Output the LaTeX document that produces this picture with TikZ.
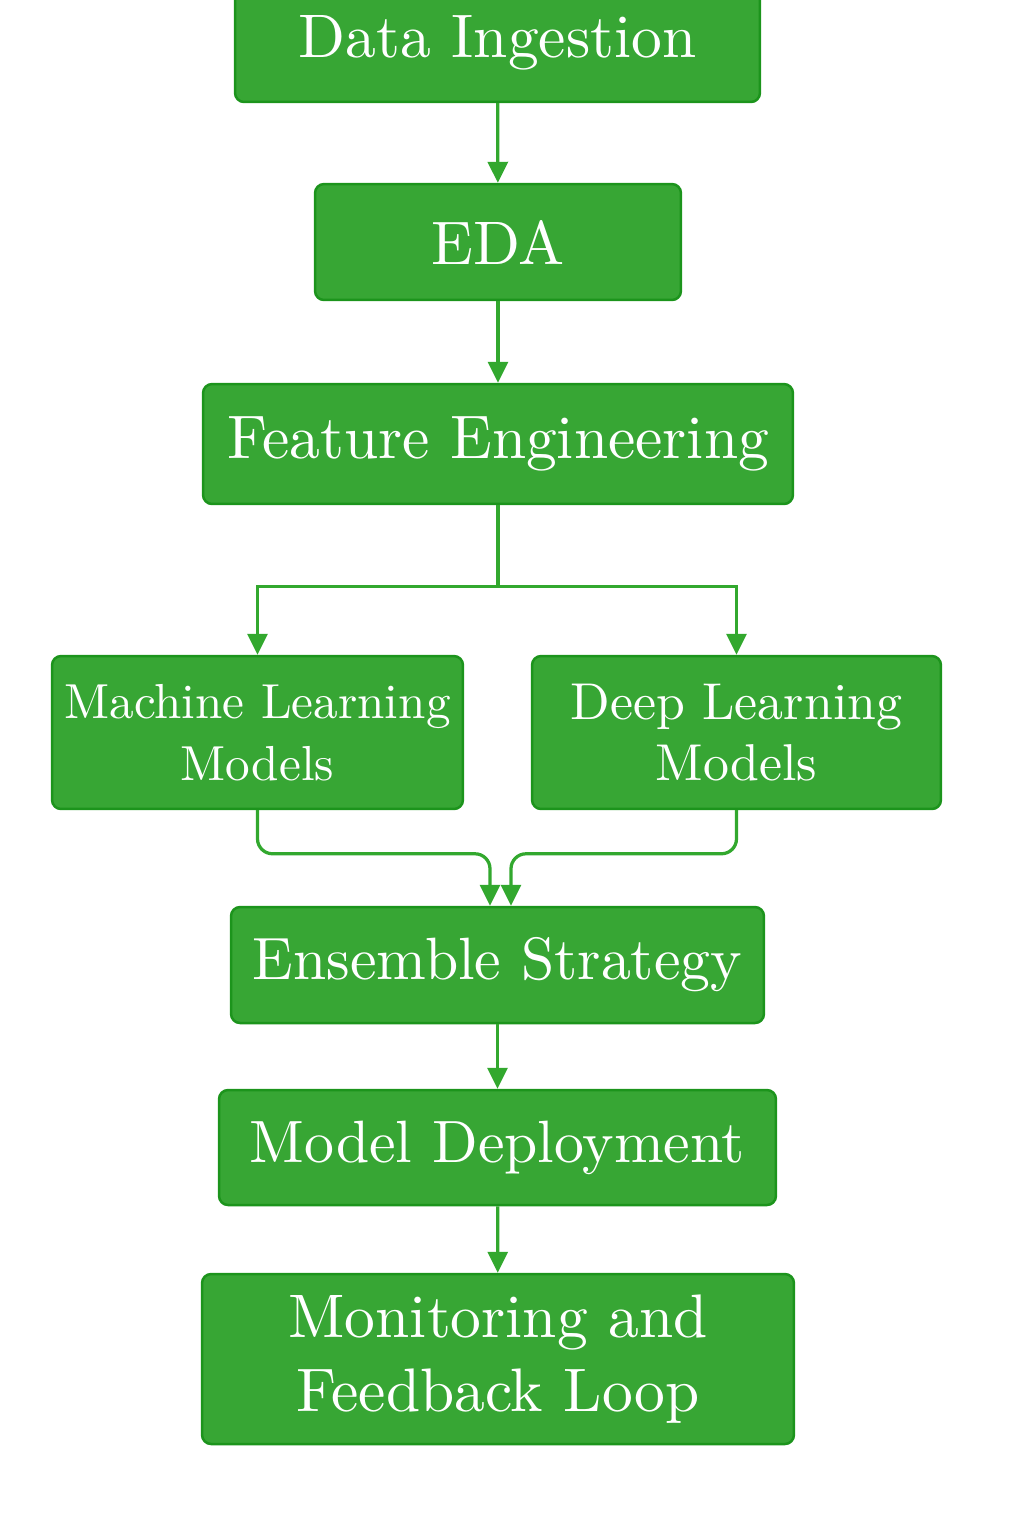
\documentclass[tikz,border=0pt]{standalone}
\usepackage{fontspec}
\usepackage{tikz}
\usetikzlibrary{arrows.meta}
\newfontfamily\tenrm{lmroman10-regular}[Extension=.otf]
\definecolor{boxgreen}{RGB}{55,166,52}
\definecolor{edgegreen}{RGB}{28,148,28}
\definecolor{linegreen}{RGB}{50,168,46}
\tikzset{
  stage/.style={draw=edgegreen, fill=boxgreen, line width=0.05cm, rounded corners=0.18cm,
    text=white, align=center, inner sep=0pt, font=\tenrm\fontsize{35}{42}\selectfont},
  flow/.style={draw=linegreen, line width=0.065cm, -{Triangle[length=0.42cm,width=0.4cm]}},
}

\begin{document}
\begin{tikzpicture}[x=0.02cm,y=-0.02cm]
\useasboundingbox (0,0) rectangle (1024,1536);
\draw(497.5,43) node [stage, minimum width=10.5cm, minimum height=2.36cm] (ingest) {Data Ingestion};
\draw(498,242) node [stage, minimum width=7.32cm, minimum height=2.32cm] (eda) {EDA};
\draw(498,444) node [stage, minimum width=11.8cm, minimum height=2.4cm] (feat) {Feature Engineering};
\draw(257.5,732.5) node [stage, minimum width=8.22cm, minimum height=3.06cm, font=\tenrm\fontsize{28}{35}\selectfont] (ml) {Machine Learning\\Models};
\draw(736.5,732.5) node [stage, minimum width=8.18cm, minimum height=3.06cm, font=\tenrm\fontsize{29.5}{35}\selectfont] (dl) {Deep Learning\\Models};
\draw(497.5,965) node [stage, minimum width=10.66cm, minimum height=2.32cm, font=\tenrm\fontsize{34}{41}\selectfont] (ens) {Ensemble Strategy};
\draw(497.5,1147.5) node [stage, minimum width=11.14cm, minimum height=2.3cm, font=\tenrm\fontsize{34}{41}\selectfont] (deploy) {Model Deployment};
\draw(498,1359) node [stage, minimum width=11.84cm, minimum height=3.4cm] (monitor) {Monitoring and\\Feedback Loop};
\draw[flow] (ingest) -- (eda);
\draw[flow] (eda) -- (feat);
\draw[flow] (feat.south) -- ++(0,81) -| (ml.north);
\draw[flow] (feat.south) -- ++(0,81) -| (dl.north);
\draw[flow, rounded corners=0.3cm] (ml.south) |- ([xshift=-0.15cm,yshift=1.04cm]ens.north) -- ([xshift=-0.15cm]ens.north);
\draw[flow, rounded corners=0.3cm] (dl.south) |- ([xshift=0.27cm,yshift=1.04cm]ens.north) -- ([xshift=0.27cm]ens.north);
\draw[flow] (ens) -- (deploy);
\draw[flow] (deploy) -- (monitor);
\end{tikzpicture}
\end{document}
